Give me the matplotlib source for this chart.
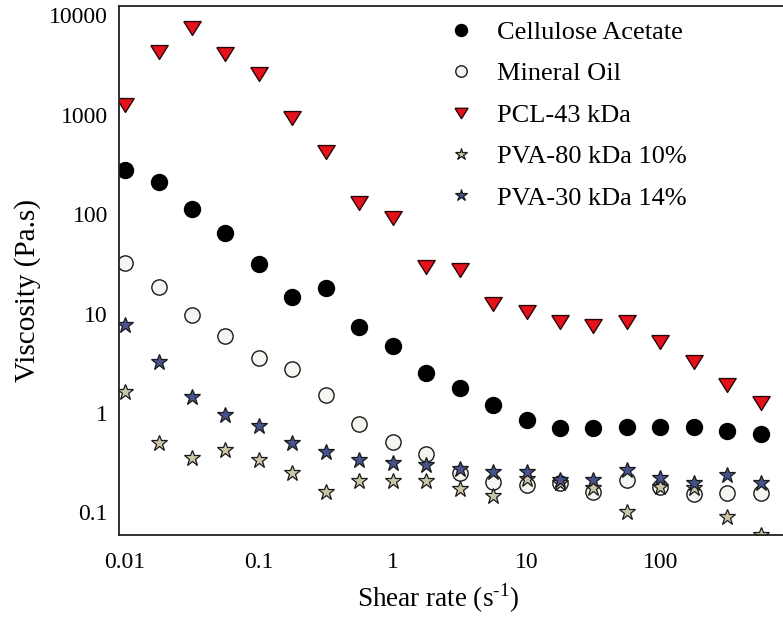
import numpy as np
import matplotlib
matplotlib.use("Agg")
import matplotlib.pyplot as plt

plt.rcParams['font.family'] = ['Liberation Serif', 'DejaVu Serif']
plt.rcParams['mathtext.fontset'] = 'custom'
plt.rcParams['mathtext.rm'] = 'Liberation Serif'

# shear rates, 4 points per decade
shear_rate = [0.01, 0.0178, 0.0316, 0.0562, 0.1, 0.178, 0.316, 0.562, 1, 1.78, 3.16,
              5.62, 10, 17.8, 31.6, 56.2, 100, 178, 316, 562, 1000]

cellulose_acetate = [277, 210, 113, 65, 31.6, 14.7, 18, 7.3, 4.7, 2.5, 1.78,
                     1.2, 0.85, 0.71, 0.70, 0.72, 0.72, 0.72, 0.66, 0.62, 0.53]
mineral_oil = [32, 18.5, 9.7, 5.95, 3.58, 2.77, 1.52, 0.77, 0.51, 0.387, 0.25,
               0.202, 0.189, 0.20, 0.16, 0.212, 0.18, 0.153, 0.157, 0.157, 0.21]
pcl_43 = [1250, 4300, 7400, 4100, 2600, 930, 420, 130, 92, 29.5, 27.5,
          12.5, 10.4, 8.3, 7.5, 8.3, 5.2, 3.25, 1.9, 1.26, 1.05]
pva_80 = [1.63, 0.50, 0.35, 0.42, 0.34, 0.25, 0.16, 0.207, 0.207, 0.207, 0.172,
          0.146, 0.215, 0.20, 0.176, 0.10, 0.18, 0.176, 0.09, 0.059, np.nan]
pva_30 = [7.7, 3.26, 1.45, 0.95, 0.74, 0.50, 0.41, 0.34, 0.314, 0.30, 0.273,
          0.255, 0.255, 0.212, 0.212, 0.267, 0.222, 0.198, 0.238, 0.198, 0.33]

labels = ["Cellulose Acetate", "Mineral Oil", "PCL-43 kDa",
          "PVA-80 kDa 10%", "PVA-30 kDa 14%"]

# a slightly flattened down-triangle, as in the original
tri_down = [(-1, 0.8), (1, 0.8), (0, -0.8), (-1, 0.8)]

W, H = 783, 619
fig = plt.figure(figsize=(W / 100, H / 100), dpi=100)
# right part of the axes runs past the figure edge, like the cropped original
ax = fig.add_axes([119 / W, (H - 535) / H, 702 / W, 529 / H])

edge = '#1a1a1a'
ax.plot(shear_rate, cellulose_acetate, 'o', ms=11.5, mfc='black', mec='black',
        label=labels[0])
ax.plot(shear_rate, mineral_oil, 'o', ms=11, mfc='#f3f6f1', mec=edge, mew=1.0,
        label=labels[1])
ax.plot(shear_rate, pcl_43, marker=tri_down, ls='none', ms=12.5, mfc='#e5121c',
        mec='#2a0505', mew=1.0, label=labels[2])
ax.plot(shear_rate, pva_80, '*', ms=12, mfc='#cbc5a6', mec=edge, mew=0.9,
        label=labels[3])
ax.plot(shear_rate, pva_30, '*', ms=12, mfc='#46538c', mec=edge, mew=0.9,
        label=labels[4])

ax.set_xscale('log')
ax.set_yscale('log')
ax.set_xlim(10 ** -2.045, 10 ** 3.2)
ax.set_ylim(10 ** -1.227, 10 ** 4.095)

ax.set_xticks([0.01, 0.1, 1, 10, 100])
ax.set_xticklabels(['0.01', '0.1', '1', '10', '100'])
ax.set_yticks([0.1, 1, 10, 100, 1000, 10000])
ax.set_yticklabels(['0.1', '1', '10', '100', '1000', '10000'])
ax.minorticks_off()
ax.tick_params(axis='x', length=0, pad=12, labelsize=17)
ax.tick_params(axis='y', length=0, pad=8, labelsize=17)

ax.spines['right'].set_visible(False)
for s in ['left', 'top', 'bottom']:
    ax.spines[s].set_linewidth(1.3)
    ax.spines[s].set_color('#222222')

fig.text(438 / W, 1 - 598 / H, 'Shear rate (s$^{\\mathrm{\\text{-}1}}$)', fontsize=19.5,
         ha='center', va='center')
fig.text(28 / W, 1 - 290 / H, 'Viscosity (Pa.s)', fontsize=21, rotation=90,
         ha='center', va='center')

ax.legend(loc='upper left', bbox_to_anchor=(437 / W, 1 - 10 / H),
          bbox_transform=fig.transFigure, frameon=False, fontsize=19,
          markerscale=0.75, handletextpad=0.86, labelspacing=0.68,
          handlelength=1.0, borderaxespad=0)

fig.savefig('out.png', dpi=100)
